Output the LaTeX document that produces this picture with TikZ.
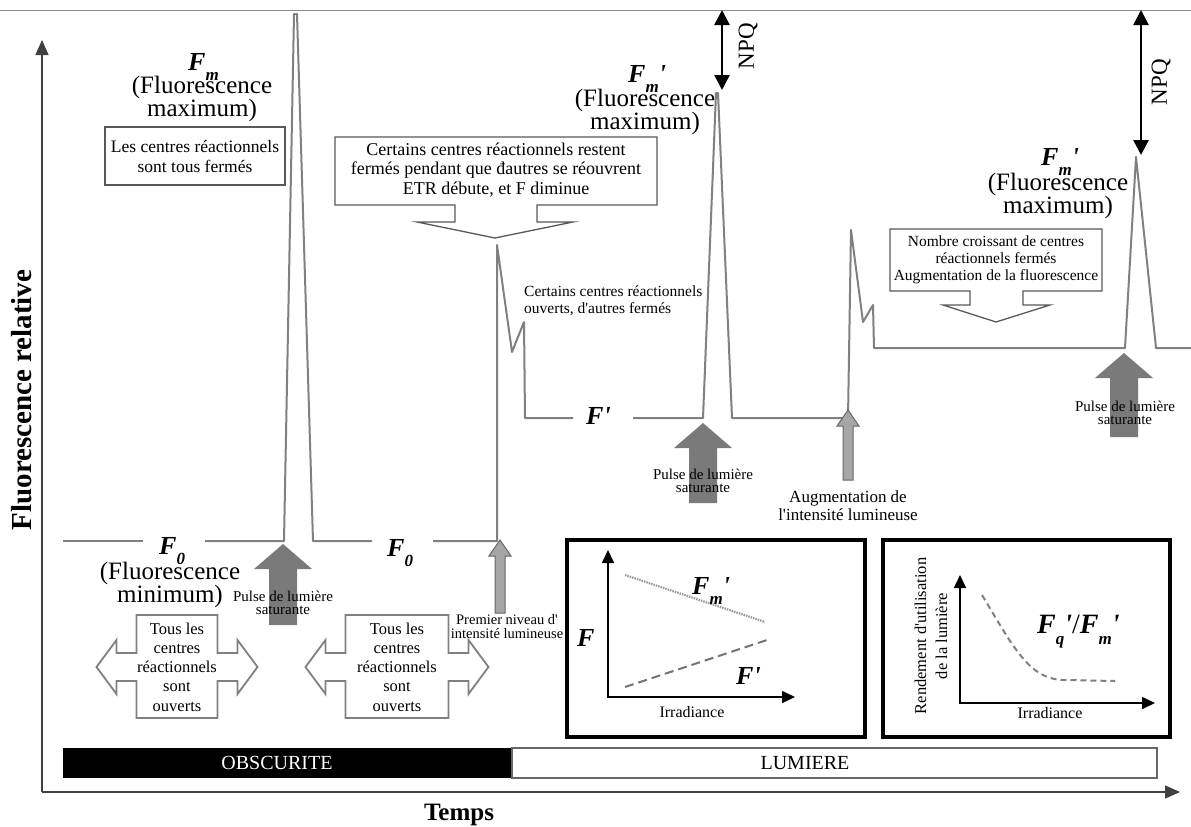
\documentclass[tikz,border=0pt]{standalone}
\usepackage{fontspec}
\setmainfont{Liberation Serif}[Ligatures=TeXOff]
\usetikzlibrary{arrows.meta}

\newcommand{\Fit}{\textbf{\textit{F}}}
\newcommand{\Fsub}[2][-10pt]{\Fit\raisebox{#1}{\fontsize{17}{17}\selectfont\textbf{\textit{#2}}}}
\newcommand{\prm}{\textbf{\textit{'}}}

\begin{document}
\begin{tikzpicture}[x=1pt, y=-1pt,
  trace/.style={draw=black!50, line width=2pt, line join=round},
  axis/.style={draw=black!75, line width=1.4pt, -{Triangle[length=15pt, width=13pt]}},
  smallaxis/.style={draw=black, line width=1.6pt, {Triangle[length=13pt, width=12pt]}-{Triangle[length=13pt, width=12pt]}},
  npq/.style={draw=black, line width=2.6pt, {Triangle[length=15pt, width=15pt]}-{Triangle[length=15pt, width=15pt]}},
  pulse/.style={fill=black!52},
  lightarrow/.style={fill=black!35, draw=black!60, line width=1pt},
  dblarrow/.style={draw=black!50, fill=white, line width=1.8pt, line join=miter},
  callout/.style={draw=black!65, fill=white, line width=1.3pt},
  inset/.style={draw=black, line width=3.5pt},
  flabel/.style={font=\fontsize{26}{26}\selectfont, inner sep=0pt, anchor=base west},
  fluo/.style={font=\fontsize{25}{23}\selectfont, align=center, inner sep=0pt},
  note/.style={font=\fontsize{16.5}{19.3}\selectfont, align=center, inner sep=0pt},
  pulsetext/.style={font=\fontsize{15}{12.5}\selectfont, align=center, inner sep=0pt}]
  \useasboundingbox (0,0) rectangle (1191,827);
  \draw[black!45, line width=0.8pt] (0,10) -- (1191,10);

  \draw[axis] (42,792) -- (42,40);
  \draw[axis] (42,792) -- (1180,792);
  \node[font=\fontsize{29}{29}\selectfont\bfseries, rotate=90] (ylab) at (22,400) {Fluorescence relative};
  \node[font=\fontsize{25}{25}\selectfont\bfseries] (xlab) at (459,815) {Temps};

  \fill (63,748) rectangle (512,778);
  \draw[black!60, line width=1.5pt] (512,748) rectangle (1157,778);
  \node[font=\fontsize{20}{20}\selectfont, white] (dark) at (277,763) {OBSCURITE};
  \node[font=\fontsize{20}{20}\selectfont] (light) at (805,763) {LUMIERE};

  \draw[trace] (63,541) -- (143,541);
  \draw[trace] (205,541) -- (284,541) -- (294,14) -- (297,14) -- (313,541) -- (372,541);
  \draw[trace] (433,541) -- (497,541) -- (497,245) -- (512,352) -- (524,322) -- (525,418) -- (573,418);
  \draw[trace] (633,418) -- (703,418) -- (716,93) -- (718,93) -- (732,418) -- (848,418) -- (851,230)
      -- (863,322) -- (873,305) -- (874,348) -- (1125,348) -- (1136,157) -- (1156,348) -- (1191,348);

  \foreach \cx/\ty/\by in {283/544/625, 703/423/503, 1124/353/437}
    \fill[pulse] (\cx,\ty) -- ++(29,25) -- ++(-15,0) -- (\cx+14,\by) -- (\cx-14,\by) -- (\cx-14,\ty+25) -- ++(-15,0) -- cycle;
  \foreach \cx/\ty/\by in {500/540/613, 848/410/480}
    \draw[lightarrow] (\cx,\ty) -- ++(11,16) -- ++(-6,0) -- (\cx+5,\by) -- (\cx-5,\by) -- (\cx-5,\ty+16) -- ++(-6,0) -- cycle;
  \foreach \cx/\bw in {177/40.5, 397/51.5}
    \draw[dblarrow] (\cx-\bw,615) -- (\cx+\bw,615) -- (\cx+\bw,653) -- ++(20,0) -- ++(0,-13) -- ++(20,27) -- ++(-20,27)
      -- ++(0,-13) -- (\cx+\bw,681) -- (\cx+\bw,718) -- (\cx-\bw,718) -- (\cx-\bw,681) -- ++(-20,0) -- ++(0,13)
      -- ++(-20,-27) -- ++(20,-27) -- ++(0,13) -- (\cx-\bw,653) -- cycle;

  \node[pulsetext] (pulse1) at (283,603) {Pulse de lumière\\saturante};
  \node[pulsetext] (pulse2) at (703,481) {Pulse de lumière\\saturante};
  \node[pulsetext] (pulse3) at (1125,413) {Pulse de lumière\\saturante};
  \node[font=\fontsize{14.5}{14}\selectfont, align=center] (level1) at (507,627) {Premier niveau d'\\intensité lumineuse};
  \node[font=\fontsize{17}{18}\selectfont, align=center] (level2) at (848,506) {Augmentation de\\l'intensité lumineuse};
  \node[note] (open1) at (177,667) {Tous les\\centres\\réactionnels\\sont\\ouverts};
  \node[note] (open2) at (397,667) {Tous les\\centres\\réactionnels\\sont\\ouverts};

  \draw[callout] (105,127) rectangle (285,185);
  \node[note, font=\fontsize{17.5}{20}\selectfont] (closed) at (195,156) {Les centres réactionnels\\sont tous fermés};
  \draw[callout] (335,137) -- (657,137) -- (657,205) -- (537,205) -- (537,222) -- (573,222) -- (495,238)
      -- (417,222) -- (455,222) -- (455,205) -- (335,205) -- cycle;
  \node[note, font=\fontsize{18}{19.5}\selectfont] (etr) at (496,170)
      {Certains centres réactionnels restent\\fermés pendant que đautres se réouvrent\\ETR débute, et F diminue};
  \draw[callout] (890,229) -- (1102,229) -- (1102,291) -- (1023,291) -- (1023,305) -- (1050,305) -- (996,322)
      -- (943,305) -- (970,305) -- (970,291) -- (890,291) -- cycle;
  \node[note, font=\fontsize{15.5}{17}\selectfont] (rise) at (996,260)
      {Nombre croissant de centres\\réactionnels fermés\\Augmentation de la fluorescence};
  \node[note, font=\fontsize{15.5}{17}\selectfont, align=left, anchor=west] (mixed) at (524,301)
      {Certains centres réactionnels\\ouverts, d'autres fermés};

  \node[flabel] (Fm) at (188,70) {\Fsub{m}};
  \node[fluo] (Fmtxt) at (202,99) {(Fluorescence\\maximum)};
  \node[flabel] (Fmp1) at (628,82) {\Fsub{m}\prm};
  \node[fluo] (Fmp1txt) at (645,112) {(Fluorescence\\maximum)};
  \node[flabel] (Fmp2) at (1041,165) {\Fsub{m}\prm};
  \node[fluo] (Fmp2txt) at (1058,196) {(Fluorescence\\maximum)};
  \node[flabel] (F0a) at (159,554) {\Fsub{0}};
  \node[fluo] (F0txt) at (170,585) {(Fluorescence\\minimum)};
  \node[flabel] (F0b) at (387,556) {\Fsub{0}};
  \node[flabel] (Fp) at (586,424) {\Fit\prm};

  \coordinate (npqAtop) at (722,10);  \coordinate (npqAbot) at (722,90);
  \coordinate (npqBtop) at (1141,10); \coordinate (npqBbot) at (1141,155);
  \draw[npq] (npqAtop) -- (npqAbot);
  \draw[npq] (npqBtop) -- (npqBbot);
  \node[font=\fontsize{23}{23}\selectfont, rotate=90] (npqA) at (748,46) {NPQ};
  \node[font=\fontsize{23}{23}\selectfont, rotate=90] (npqB) at (1161,82) {NPQ};

  \draw[inset] (567,540) rectangle (865,737);
  \draw[smallaxis] (608,550) -- (608,697) -- (795,697);
  \draw[black!40, line width=2.2pt, dash pattern=on 1.5pt off 1pt] (625,575) -- (765,622);
  \draw[black!55, line width=2pt, dash pattern=on 9pt off 5pt] (625,687) -- (767,640);
  \node[flabel] (Fax) at (577,646) {\Fit};
  \node[flabel] (Fmi) at (692,594) {\Fsub{m}\prm};
  \node[flabel] (Fpi) at (736,684) {\Fit\prm};
  \node[font=\fontsize{16}{16}\selectfont] (irr1) at (692,712) {Irradiance};

  \draw[inset] (883,540) rectangle (1170,737);
  \draw[smallaxis] (960,575) -- (960,703) -- (1155,703);
  \draw[black!50, line width=2pt, dash pattern=on 6pt off 4pt] (982,595) .. controls (1015,650) and (1030,680) .. (1065,680) -- (1115,681);
  \node[font=\fontsize{16.5}{21}\selectfont, rotate=90, align=center] (yield) at (931,636) {Rendement d'utilisation\\de la lumière};
  \node[font=\fontsize{16}{16}\selectfont] (irr2) at (1050,713) {Irradiance};
  \node[flabel, font=\fontsize{28}{28}\selectfont] (ratio) at (1037,633) {\Fsub[-11pt]{q}\prm/\Fsub[-11pt]{m}\prm};
\end{tikzpicture}
\end{document}
